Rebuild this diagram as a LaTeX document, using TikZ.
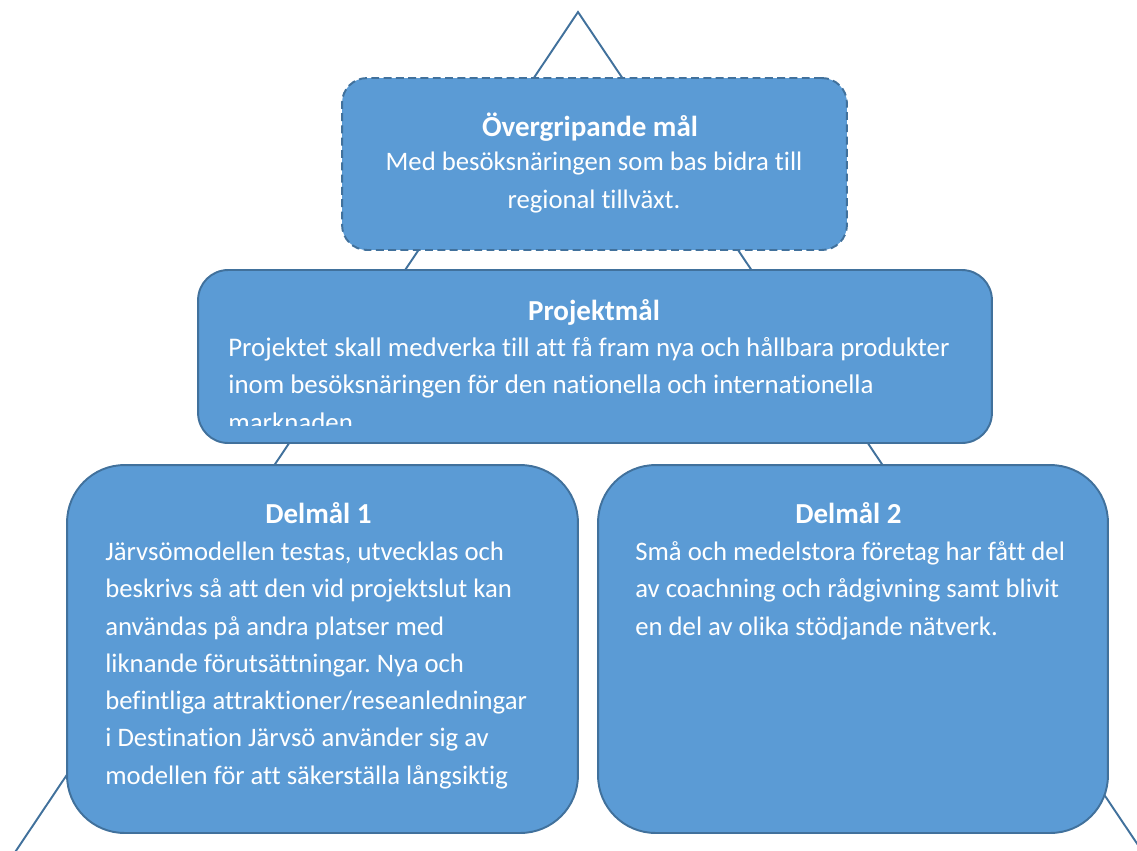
\documentclass[tikz,border=0pt]{standalone}
\usepackage{fontspec}
\setmainfont[Ligatures=NoCommon]{Carlito}
\frenchspacing

\definecolor{goalfill}{HTML}{5B9BD5}
\definecolor{goalline}{HTML}{41719C}

\tikzset{
	goalbox/.style={draw=goalline, line width=1.1pt, fill=goalfill, rectangle},
	goaltext/.style={text=white, inner sep=0pt, font=\fontsize{15.2}{21.2}\selectfont},
	goaltitle/.style={text=white, inner sep=0pt, anchor=base, font=\fontsize{16.5}{21.2}\selectfont\bfseries},
}

\begin{document}
\begin{tikzpicture}[x=0.02cm, y=-0.02cm]

	% Frame of the picture
	\path[use as bounding box, clip] (0,0) rectangle (1137,850);

	% Pyramid behind the boxes
	\coordinate (apex) at (578,12);
	\coordinate (baseL) at (-17,900);
	\coordinate (baseR) at (1175,900);
	\draw[goalline, line width=1.1pt] (apex) -- (baseL) -- (baseR) -- cycle;

	% Overall goal
	\node[goalbox, dashed, dash pattern=on 4.5pt off 2.5pt, rounded corners=0.5cm,
		minimum width=10.1cm, minimum height=3.44cm] (overall) at (594.5,164) {};
	\node[goaltitle] (overalltitle) at (590,136) {Övergripande mål};
	\node[goaltext, anchor=base, align=center] (overalltext) at (594,208)
		{Med besöksnäringen som bas bidra till\\regional tillväxt.};

	% Project goal
	\node[goalbox, rounded corners=0.6cm,
		minimum width=15.88cm, minimum height=3.46cm] (project) at (595,356.5) {};
	\node[goaltitle] (projecttitle) at (594,320) {Projektmål};
	\begin{scope}
		\clip (200,272) rectangle (990,425);
		\node[goaltext, anchor=base west, align=left, font=\fontsize{15.3}{21.2}\selectfont] (projecttext) at (228,431)
			{Projektet skall medverka till att få fram nya och hållbara produkter\\
			inom besöksnäringen för den nationella och internationella\\
			marknaden};
	\end{scope}

	% Sub goal 1
	\node[goalbox, rounded corners=1.15cm,
		minimum width=10.22cm, minimum height=7.36cm] (sub1) at (322.5,649) {};
	\node[goaltitle] (sub1title) at (318.5,523) {Delmål 1};
	\node[goaltext, anchor=base west, align=left] (sub1text) at (105,784)
		{Järvsömodellen testas, utvecklas och\\
		beskrivs så att den vid projektslut kan\\
		användas på andra platser med\\
		liknande förutsättningar. Nya och\\
		befintliga attraktioner/reseanledningar\\
		i Destination Järvsö använder sig av\\
		modellen för att säkerställa långsiktig};

	% Sub goal 2
	\node[goalbox, rounded corners=1.15cm,
		minimum width=10.2cm, minimum height=7.36cm] (sub2) at (853,649) {};
	\node[goaltitle] (sub2title) at (848.5,523) {Delmål 2};
	\node[goaltext, anchor=base west, align=left] (sub2text) at (635,635)
		{Små och medelstora företag har fått del\\
		av coachning och rådgivning samt blivit\\
		en del av olika stödjande nätverk.};

\end{tikzpicture}
\end{document}
